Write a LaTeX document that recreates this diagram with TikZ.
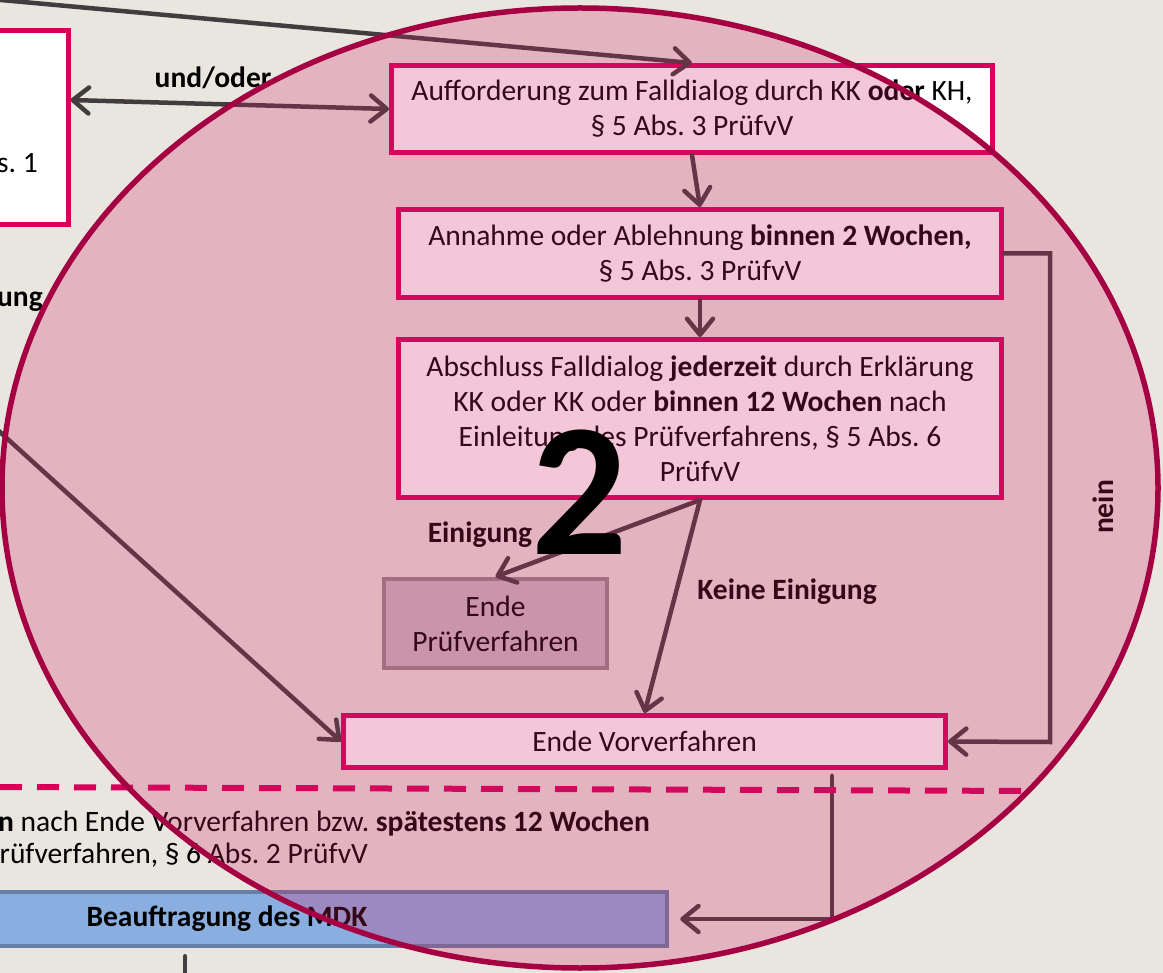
\documentclass[tikz,border=0pt]{standalone}
\usepackage{fontspec}
\setmainfont{Carlito}
\usetikzlibrary{arrows.meta,positioning}
\frenchspacing

\definecolor{bgcol}{RGB}{233,230,224}
\definecolor{boxmag}{RGB}{214,0,90}
\definecolor{arrowcol}{RGB}{66,60,62}
\definecolor{ellfill}{RGB}{210,30,100}
\definecolor{ellline}{RGB}{165,0,65}
\definecolor{greyfill}{RGB}{200,190,194}
\definecolor{greyline}{RGB}{147,138,141}
\definecolor{mdkfill}{RGB}{138,174,224}
\definecolor{mdkline}{RGB}{100,128,168}

\begin{document}
\begin{tikzpicture}[x=1pt, y=-1pt,
  flowbox/.style={draw=boxmag, fill=white, line width=5pt, rectangle, align=center, inner sep=2pt, font=\fontsize{29.5}{35}\selectfont},
  greybox/.style={flowbox, draw=greyline, fill=greyfill, line width=4.5pt},
  mdkbox/.style={flowbox, draw=mdkline, fill=mdkfill, line width=4.5pt},
  note/.style={font=\fontsize{29.5}{35}\selectfont\bfseries, inner sep=0pt},
  plain/.style={font=\fontsize{29.5}{35}\selectfont, inner sep=0pt},
  arrow/.style={->, >={Straight Barb[length=16pt,width=26pt,round]}, line width=4.5pt, draw=arrowcol, line cap=round}
]
\useasboundingbox (0,0) rectangle (1163,973);
\clip (0,0) rectangle (1163,973);
\fill[bgcol] (0,0) rectangle (1163,973);

% boxes
\node[flowbox, minimum width=366, minimum height=194] (leftbox) at (-115,127.5) {};
\node[flowbox, minimum width=601, minimum height=87] (auff) at (692,109)
  {Aufforderung zum Falldialog durch KK \textbf{oder} KH,\\ § 5 Abs. 3 PrüfvV};
\node[flowbox, minimum width=603, minimum height=88] (annahme) at (700,253.5)
  {Annahme oder Ablehnung \textbf{binnen 2 Wochen,}\\ § 5 Abs. 3 PrüfvV};
\node[flowbox, minimum width=603, minimum height=158] (abschluss) at (700,418.5)
  {Abschluss Falldialog \textbf{jederzeit} durch Erklärung\\ KK oder KK oder \textbf{binnen 12 Wochen} nach\\ Einleitung des Prüfverfahrens, § 5 Abs. 6\\ PrüfvV};
\node[greybox, minimum width=223, minimum height=89] (endepv) at (495.5,623.5) {Ende\\ Prüfverfahren};
\node[flowbox, minimum width=602, minimum height=52] (endevv) at (644.5,741.5) {Ende Vorverfahren};
\node[mdkbox, minimum width=880, minimum height=54] (mdk) at (227,919) {\textbf{Beauftragung des MDK}};

% texts
\node[plain, anchor=east] (abs1) at (38,163) {s. 1};
\node[note, anchor=east] (ung) at (43,302) {ung};
\node[note] (undoder) at (213,78) {und/oder};
\node[note] (einigung) at (480,535) {Einigung};
\node[note] (keine) at (787,592) {Keine Einigung};
\node[note, rotate=90] (nein) at (1103,507) {nein};
\node[plain, anchor=east] (frist1) at (650,823) {\textbf{n} nach Ende Vorverfahren bzw. \textbf{spätestens 12 Wochen}};
\node[plain, anchor=east] (frist2) at (368,855) {rüfverfahren, § 6 Abs. 2 PrüfvV};

% connectors
\coordinate (topin) at (-10,-1);
\coordinate (leftin) at (-10,423);
\coordinate (neincorner) at (1050,742);
\coordinate (mdkcorner) at (832,921);
\draw[arrow] (topin) -- (auff.north);
\draw[arrow, <->] ([yshift=27.5pt]leftbox.east) -- (auff.west);
\draw[arrow] (auff.south) -- (annahme.north);
\draw[arrow] (annahme.south) -- (abschluss.north);
\draw[arrow] (abschluss.south) -- (endepv.north);
\draw[arrow] (abschluss.south) -- (endevv.north);
\draw[arrow] (annahme.east) -| (neincorner) -- (endevv.east);
\draw[arrow] (leftin) -- (endevv.west);
\draw[arrow, shorten <=6pt, shorten >=11pt] (endevv.south -| mdkcorner) |- (mdk.east);
\draw[arrow, -] ([xshift=-42pt, yshift=-8pt]mdk.south) -- ++(0,30);

% separator
\draw[boxmag, line width=6pt, dash pattern=on 22pt off 15pt] (0,787) -- (1035,791);

% overlay
\fill[ellfill, fill opacity=0.25] (580,488) ellipse [x radius=578pt, y radius=480pt];
\draw[ellline, line width=5.5pt] (580,488) ellipse [x radius=578pt, y radius=480pt];
\node[font=\fontsize{190}{190}\selectfont\bfseries, inner sep=0pt] (zwei) at (580,492) {2};
\end{tikzpicture}
\end{document}
